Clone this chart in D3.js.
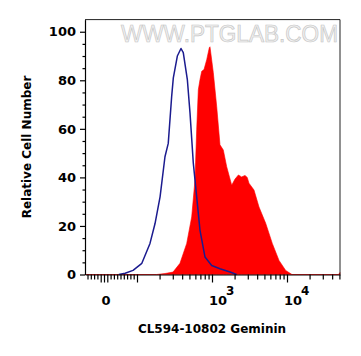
<!DOCTYPE html>
<html><head><meta charset="utf-8">
<script src="https://cdn.jsdelivr.net/npm/d3@7"></script>
<style>body{margin:0;background:#fff}svg{display:block}</style>
</head><body><svg id="c" width="361" height="356"></svg>
<script>
// ---- data (fluorescence intensity, % of max) ----
const isoX = [45, 64, 88, 116, 149, 174, 203, 236, 261, 290, 305, 345, 386, 414, 469, 509, 563, 625, 692, 807, 990, 1278, 1738, 2130];
const isoY = [0, 0.5, 1.7, 4.6, 12.8, 21, 32, 48.5, 54, 73.4, 81, 90, 93.1, 91.4, 80.3, 66.6, 46, 32, 18.2, 7.2, 3.7, 2.4, 1.0, 0];
const stainX = [-58, 149, 183, 236, 302, 374, 460, 536, 593, 625, 657, 692, 729, 782, 850, 920, 940, 1041, 1155, 1278, 1415, 1570, 1831, 2026, 2250, 2480, 2754, 2950, 3114, 3631, 4234, 5200, 6368, 7824, 9610, 11660, 48500, 50900];
const stainY = [0, 0, 0, 0.4, 1, 4.6, 12.8, 23.7, 38.9, 59.6, 76.1, 80.3, 83.7, 84.4, 88.5, 93.4, 93.8, 83.2, 69.2, 53.4, 51.3, 44.4, 36.8, 39.3, 41, 40.2, 40.8, 40, 37.6, 34.8, 27.8, 21.1, 12.8, 5.8, 1.65, 0, 0, 0.8];
const yMajor = [0, 20, 40, 60, 80, 100];
const yMinor = [5, 10, 15, 25, 30, 35, 45, 50, 55, 65, 70, 75, 85, 90, 95];
const xMajor = [100, 1000, 10000];
const xMid = [-10, 0, 10];
const xMinor = [-50, -40, -30, -20, 20, 30, 40, 50, 60, 70, 80, 90,
  200, 300, 400, 500, 600, 700, 800, 900,
  2000, 3000, 4000, 5000, 6000, 7000, 8000, 9000,
  20000, 30000, 40000, 50000];
const xLabelVals = [0, 1000, 10000];
const xLabelBase = ["0", "10", "10"];
const xLabelExp = ["", "3", "4"];
const xTitle = "CL594-10802 Geminin";
const yTitle = "Relative Cell Number";
const watermark = "WWW.PTGLAB.COM";

// ---- scales ----
const L = 85, R = 340, T = 19.6, B = 274.5;
const linPart = d3.scaleLinear().domain([0, 100]).range([104, 137]);
const logPart = d3.scaleLog().domain([100, 10000]).range([137, 287]);
function makeX() {
  const f = v => v < 100 ? linPart(v) : logPart(v);
  f.domain = () => [-58, 50900];
  f.range = () => [L, R];
  f.copy = makeX;
  return f;
}
const x = makeX();
const y = d3.scaleLinear().domain([0, 105]).range([B, T]);

const svg = d3.select("#c");
svg.append("rect").attr("width", 361).attr("height", 356).attr("fill", "#fff");
const FONT = "'DejaVu Sans', Verdana, sans-serif";

// watermark
svg.append("text").attr("x", 121).attr("y", 42)
  .attr("textLength", 217).attr("lengthAdjust", "spacingAndGlyphs")
  .attr("font-family", "'Liberation Sans', Arial, sans-serif").attr("font-size", 24)
  .attr("fill", "#f1f1f1").attr("stroke", "#c6c6c6").attr("stroke-width", 0.7)
  .text(watermark);

// red filled histogram
const stain = stainX.map((v, i) => [v, stainY[i]]);
svg.append("path").datum(stain)
  .attr("fill", "#ff0000").attr("stroke", "#ff0000").attr("stroke-width", 0.6)
  .attr("d", d3.area().x(d => x(d[0])).y0(y(0)).y1(d => y(d[1])));

// blue isotype line
const iso = isoX.map((v, i) => [v, isoY[i]]);
svg.append("path").datum(iso)
  .attr("fill", "none").attr("stroke", "#1b1b8f").attr("stroke-width", 1.5)
  .attr("stroke-linejoin", "round")
  .attr("d", d3.line().x(d => x(d[0])).y(d => y(d[1])));

// frame (top & right)
svg.append("path").attr("d", `M${L},${T}H${R}V${B}`)
  .attr("fill", "none").attr("stroke", "#222").attr("stroke-width", 1);

// y axis
const gy = svg.append("g").attr("transform", `translate(${L},0)`);
gy.call(d3.axisLeft(y).tickValues(yMajor).tickSize(5).tickSizeOuter(0).tickPadding(4));
gy.append("g").call(d3.axisLeft(y).tickValues(yMinor).tickSize(2.5).tickSizeOuter(0).tickFormat(""))
  .select(".domain").remove();
gy.selectAll("path,line").attr("stroke", "#000").attr("stroke-width", 1.2);
gy.selectAll("text").attr("font-family", FONT).attr("font-size", 13)
  .attr("font-weight", "bold").attr("fill", "#000");

// x axis
const gx = svg.append("g").attr("transform", `translate(0,${B})`);
gx.call(d3.axisBottom(x).tickValues(xMajor).tickSize(8).tickSizeOuter(0).tickFormat(""));
gx.append("g").call(d3.axisBottom(x).tickValues(xMid).tickSize(8).tickSizeOuter(0).tickFormat(""))
  .select(".domain").remove();
gx.append("g").call(d3.axisBottom(x).tickValues(xMinor).tickSize(5).tickSizeOuter(0).tickFormat(""))
  .select(".domain").remove();
gx.selectAll("path,line").attr("stroke", "#000").attr("stroke-width", 1.2);

// x tick labels with superscripts
xLabelVals.forEach((v, i) => {
  const t = svg.append("text")
    .attr("font-family", FONT).attr("font-size", 13).attr("font-weight", "bold").attr("fill", "#000")
    .attr("y", 305);
  if (xLabelExp[i] === "") {
    t.attr("x", x(v) + 2).attr("text-anchor", "middle").text(xLabelBase[i]);
  } else {
    t.attr("x", x(v) - 3).attr("text-anchor", "start");
    t.append("tspan").text(xLabelBase[i]);
    t.append("tspan").attr("dx", -1).attr("dy", -10).attr("font-size", 12).text(xLabelExp[i]);
  }
});

// axis titles
svg.append("text").attr("x", 212).attr("y", 333).attr("text-anchor", "middle")
  .attr("font-family", FONT).attr("font-size", 12).attr("font-weight", "bold").attr("fill", "#000")
  .text(xTitle);
svg.append("text").attr("transform", "translate(31,147) rotate(-90)").attr("text-anchor", "middle")
  .attr("font-family", FONT).attr("font-size", 12).attr("font-weight", "bold").attr("fill", "#000")
  .text(yTitle);
</script>
</body></html>
